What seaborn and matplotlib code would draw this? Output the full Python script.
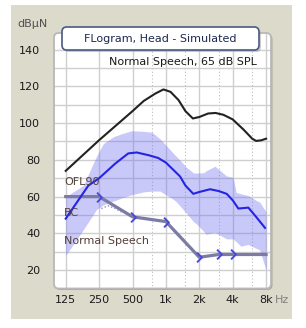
import numpy as np
import pandas as pd
import matplotlib
matplotlib.use("Agg")
import matplotlib.pyplot as plt
from matplotlib.patches import FancyBboxPatch, Rectangle
from matplotlib.path import Path
import seaborn as sns

# OFL90 curve (black)
ofl_freq = [125, 250, 500, 630, 800, 950, 1100, 1300, 1500, 1750, 2000, 2400,
            2800, 3300, 4000, 5000, 6000, 6500, 7200, 8000]
ofl_db = [74, 90.7, 106.5, 112, 116, 118.3, 117, 112.5, 106.5, 102.5, 103.3, 105.2,
          105.5, 104.5, 102, 96.5, 91.5, 90.3, 90.6, 91.5]

# Normal speech median (blue line)
speech_freq = [125, 200, 250, 350, 458, 546, 700, 853, 1000, 1340, 1500, 1766,
               2000, 2500, 3000, 3530, 4000, 4500, 5540, 6500, 7820]
speech_db = [48, 66, 70, 78, 83.5, 84, 82.5, 81, 78.5, 71, 66, 61.5,
             62.5, 64, 63, 61.5, 58, 53.5, 54, 49, 43]

# Normal speech range (band)
band_freq = [125, 180, 237, 273, 335, 390, 491, 625, 750, 885, 1170, 1250, 1530,
             1766, 1900, 2200, 2300, 2770, 3530, 4030, 4300, 4750, 5500, 6700, 7000, 8000]
band_high = [60, 66, 82, 88.8, 92.5, 94, 95.8, 95.5, 95, 91.4, 83.5, 81.7, 76,
             72.9, 72.8, 73, 74, 76.5, 71.2, 70.5, 62.3, 61.5, 60.6, 57.5, 57, 51.7]
band_low = [28, 42, 53, 55.5, 57.5, 59, 61, 62.5, 63, 63, 58.5, 57, 51,
            46.5, 45, 41, 39.5, 40.5, 37, 37, 35.5, 33, 34, 31.5, 31, 20]

# Bone conduction line
bc_freq = [125, 250, 500, 1000, 2000, 3000, 4000, 8000]
bc_db = [60, 60, 49, 46.4, 27, 28.5, 28.5, 28.5]
bc_mark_freq = [250, 500, 1000, 2000, 3000, 4000]
bc_mark_db = [60, 49, 46.4, 27, 28.5, 28.5]
dot_freq = [262, 300, 350, 400]
dot_db = [53.5, 55, 53.5, 51.5]

xticks = [125, 250, 500, 1000, 2000, 4000, 8000]
xlabels = ['125', '250', '500', '1k', '2k', '4k', '8k']
half_octaves = [750, 1500, 3000, 6000]
yticks = [20, 40, 60, 80, 100, 120, 140]

W, H = 306, 328
fig = plt.figure(figsize=(W / 100, H / 100), dpi=100)
fig.patch.set_facecolor('white')
fig.patches.append(Rectangle((11 / W, 9 / H), 281 / W, 314 / H, transform=fig.transFigure,
                             facecolor='#DCDACB', edgecolor='none', zorder=-5))

# rounded plot panel with a soft shadow
ax_box = (54 / W, (H - 288.5) / H, 217 / W, 255.5 / H)
fig.patches.append(FancyBboxPatch((ax_box[0] + 1.5 / W, ax_box[1] - 1.5 / H), ax_box[2], ax_box[3],
                                  boxstyle='round,pad=0,rounding_size=0.015',
                                  transform=fig.transFigure, facecolor='#A9A79C',
                                  edgecolor='none', zorder=-4))
fig.patches.append(FancyBboxPatch(ax_box[:2], ax_box[2], ax_box[3],
                                  boxstyle='round,pad=0,rounding_size=0.015',
                                  transform=fig.transFigure, facecolor='white',
                                  edgecolor='none', zorder=-3))

ax = fig.add_axes(list(ax_box))
ax.set_facecolor('none')
ax.set_xscale('log', base=2)
ax.set_xlim(98, 8860)
ax.set_ylim(13.8, 149)

# grid
ax.set_xticks(xticks)
ax.set_xticklabels(xlabels)
ax.set_xticks(half_octaves, minor=True)
ax.set_xticklabels([], minor=True)
ax.set_yticks(yticks)
ax.set_yticks(np.arange(10, 150, 10), minor=True)
ax.grid(which='major', color='#CFCFCF', lw=1.0)
ax.grid(which='minor', axis='y', color='#CFCFCF', lw=1.0)
ax.grid(which='minor', axis='x', color='#BDBDBD', lw=0.8, ls=(0, (1, 2)))
ax.set_axisbelow(True)
ax.tick_params(which='both', length=0)
ax.tick_params(axis='y', pad=10, labelsize=8, labelcolor='#1A1A1A')
ax.tick_params(axis='x', pad=5, labelsize=8, labelcolor='#1A1A1A')
for s in ax.spines.values():
    s.set_visible(False)

# speech band
ax.fill_between(band_freq, band_low, band_high, color='#6F6FF0', alpha=0.38, lw=0, zorder=1)

ofl = pd.DataFrame({'freq': ofl_freq, 'db': ofl_db})
speech = pd.DataFrame({'freq': speech_freq, 'db': speech_db})
bc = pd.DataFrame({'freq': bc_freq, 'db': bc_db})

sns.lineplot(data=ofl, x='freq', y='db', ax=ax, color='#222222', lw=1.5, zorder=3)
sns.lineplot(data=speech, x='freq', y='db', ax=ax, color='#2424E4', lw=1.5, zorder=3)
sns.lineplot(data=bc, x='freq', y='db', ax=ax, color='#7B7BA6', lw=2.3, zorder=2)
ax.plot(dot_freq, dot_db, color='#9090B0', lw=1, ls=(0, (1, 1.5)), zorder=2)

chevron = Path([(-0.5, 1), (0.5, 0), (-0.5, -1)], [Path.MOVETO, Path.LINETO, Path.LINETO])
ax.plot(bc_mark_freq, bc_mark_db, ls='none', marker=chevron, ms=7, mew=1.4,
        mfc='none', mec='#4A4AD8', zorder=4)
ax.set_xlabel('')
ax.set_ylabel('')

# curve labels
lab_col = '#55403A'
ax.text(0.046, 0.417, 'OFL90', transform=ax.transAxes, fontsize=8, color=lab_col, va='center')
ax.text(0.046, 0.2955, 'BC', transform=ax.transAxes, fontsize=8, color=lab_col, va='center')
ax.text(0.046, 0.186, 'Normal Speech', transform=ax.transAxes, fontsize=8, color=lab_col, va='center')
ax.text(0.935, 0.886, 'Normal Speech, 65 dB SPL', transform=ax.transAxes, fontsize=8,
        color='#1A1A1A', ha='right', va='center')

# panel border drawn above the axes content
fig.patches.append(FancyBboxPatch(ax_box[:2], ax_box[2], ax_box[3],
                                  boxstyle='round,pad=0,rounding_size=0.015',
                                  transform=fig.transFigure, facecolor='none',
                                  edgecolor='#B8B8B8', lw=1.3, zorder=2))

# title box
fig.patches.append(FancyBboxPatch((64 / W, (H - 52) / H), 197 / W, 23 / H,
                                  boxstyle='round,pad=0,rounding_size=0.015',
                                  transform=fig.transFigure, facecolor='#9A9A9A',
                                  edgecolor='none', alpha=0.5, zorder=5))
fig.patches.append(FancyBboxPatch((62 / W, (H - 50) / H), 197 / W, 23 / H,
                                  boxstyle='round,pad=0,rounding_size=0.015',
                                  transform=fig.transFigure, facecolor='white',
                                  edgecolor='#4B5A80', lw=1.2, zorder=6))
fig.text(160.5 / W, (H - 38.5) / H, 'FLogram, Head - Simulated', fontsize=8,
         color='#1E2850', ha='center', va='center', zorder=7)

fig.text(33 / W, (H - 24) / H, 'dBµN', fontsize=8, color='#505050', ha='center', va='center')
fig.text(282 / W, (H - 300) / H, 'Hz', fontsize=8, color='#808080', ha='center', va='center')

fig.savefig('out.png', dpi=100)
